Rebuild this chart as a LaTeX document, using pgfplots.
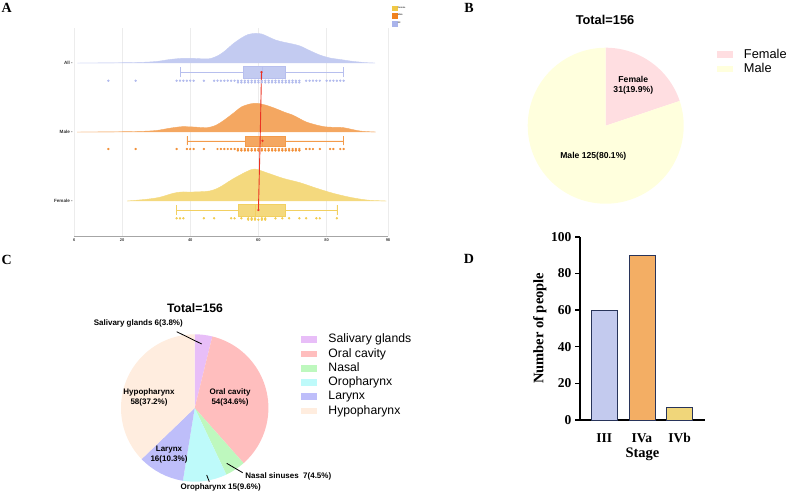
\documentclass[border=0pt]{standalone}
\usepackage{pgfplots}
\usepackage{pgfplotstable}
\pgfplotsset{compat=1.18}
\usepgfplotslibrary{statistics}
\usepackage{fontspec}
\setmainfont{Liberation Sans}
\newfontfamily\timesfont{Liberation Serif}

% colours
\definecolor{cAll}{RGB}{170,180,235}
\definecolor{cMale}{RGB}{240,130,30}
\definecolor{cFemale}{RGB}{240,200,70}
\definecolor{meanred}{RGB}{235,50,35}
\definecolor{pFemale}{RGB}{255,222,225}
\definecolor{pMale}{RGB}{255,255,221}
\definecolor{sSal}{RGB}{232,190,248}
\definecolor{sOral}{RGB}{255,190,190}
\definecolor{sNasal}{RGB}{190,248,190}
\definecolor{sOro}{RGB}{190,250,250}
\definecolor{sLar}{RGB}{190,190,250}
\definecolor{sHypo}{RGB}{255,237,223}
\definecolor{barIII}{RGB}{195,202,238}
\definecolor{barIVa}{RGB}{243,174,100}
\definecolor{barIVb}{RGB}{240,214,122}
\definecolor{barEdge}{RGB}{40,52,90}

% age densities (age, height of the ridge)
\pgfplotstableread{
age h
6.9 0
15 0.1
25 0.6
30 1.5
34 3.5
37.5 4.6
41 4.6
45.5 4.2
48.5 8
50.5 13
52.5 19
55 25
57 28.5
59 29.6
61 29
63 26
65 23
67.2 21
70 19
72.2 17
75 12.5
78 8
81 5
84 3.5
87.8 1.6
91.9 0.3
94.2 0
}\densAll
\pgfplotstableread{
age h
6.8 0
15 0.1
25 0.6
30 1.5
34 3.8
37.5 5.3
41 5
45 4.3
47.7 7
50 12
52.6 18.7
55 25
57.5 28
59.5 28.7
62 27
65 23.5
67.5 20
70 17
72 13.5
74 10
77 7
79.5 5.2
82 4.7
85 4.3
89.8 1
94.4 0
}\densMale
\pgfplotstableread{
age h
21.5 0
27.1 1.7
31 3.7
35 7.7
37.4 9
40.7 9
45.7 10
48.6 13.7
52.5 22
56.5 29.3
58.9 32
62.4 28.3
67.2 22.7
72.2 18.3
77.1 12.7
81.9 7.7
86.9 3.7
91.8 1
97.5 0
}\densFemale

% pie slices: count/colour, clockwise from the top
\newcommand{\drawpie}[3]{% #1 list, #2 total, #3 radius
  \gdef\cumangle{90}%
  \foreach \v/\slicecol in {#1} {%
    \pgfmathsetmacro{\endangle}{\cumangle-(\v/#2)*360}%
    \edef\temp{\noexpand\fill[\slicecol] (axis cs:0,0) -- (axis cs:{cos(\cumangle)},{sin(\cumangle)}) arc[start angle=\cumangle, end angle=\endangle, radius=#3] -- cycle;}%
    \temp
    \global\let\cumangle\endangle
  }%
}
% legend key: a flat bar followed by a gap before the text
\pgfplotsset{
  keybar/.style 2 args={legend image code/.code={\fill[#1] (0pt,-#2) rectangle (15pt,#2); \path (25pt,0pt);}}
}

\begin{document}
\begin{tikzpicture}
\path[use as bounding box] (0,0) rectangle (787pt,-493pt);

% panel letters
\begin{scope}[every node/.style={font=\timesfont\bfseries\fontsize{14}{14}\selectfont}]
\node at (6.7pt,-7.5pt) {A};
\node at (469pt,-7.5pt) {B};
\node at (6.7pt,-260pt) {C};
\node at (469pt,-259pt) {D};
\end{scope}

% ---------------- A: raincloud of age ----------------
\begin{axis}[
  at={(74.3pt,-236.3pt)}, anchor=south west, scale only axis,
  width=313.7pt, height=208pt,
  xmin=6, xmax=98, ymin=0, ymax=208,
  axis x line*=bottom, axis y line*=left,
  y axis line style={draw=none},
  x axis line style={draw=gray!70, line width=0.6pt},
  xtick={6,20,40,60,80,98},
  xmajorgrids, grid style={gray!15, line width=0.4pt},
  ytick={35.3,104.3,173.3}, yticklabels={Female -, Male -, All -},
  tick style={draw=none},
  /pgf/number format/assume math mode=true,
  xticklabel style={font=\bfseries\fontsize{4}{4}\selectfont, text=black!75, yshift=1pt},
  yticklabel style={font=\bfseries\fontsize{4.6}{5}\selectfont, text=black!80, xshift=2pt},
  legend style={at={(1.012,1.11)}, anchor=north west, draw=none, fill=none,
    font=\fontsize{2.3}{2.5}\selectfont, row sep=2.4pt, inner sep=0pt,
    nodes={inner sep=0.6pt}},
  legend cell align=left,
  boxplot/draw direction=x,
]
\addlegendimage{legend image code/.code={\fill[cFemale] (0pt,-2.4pt) rectangle (4.8pt,2.4pt);}}
\addlegendentry{Female}
\addlegendimage{legend image code/.code={\fill[cMale] (0pt,-2.4pt) rectangle (4.8pt,2.4pt);}}
\addlegendentry{Male}
\addlegendimage{legend image code/.code={\fill[cAll] (0pt,-2.4pt) rectangle (4.8pt,2.4pt);}}
\addlegendentry{All}

% clouds
\addplot[forget plot, draw=cAll!70!white, fill=cAll!70!white, smooth, tension=0.5]
  table[x=age, y expr=\thisrow{h}+173.3] {\densAll};
\addplot[forget plot, draw=cMale!70!white, fill=cMale!70!white, smooth, tension=0.5]
  table[x=age, y expr=\thisrow{h}+104.3] {\densMale};
\addplot[forget plot, draw=cFemale!70!white, fill=cFemale!70!white, smooth, tension=0.5]
  table[x=age, y expr=\thisrow{h}+35.3] {\densFemale};

% boxes
\addplot[forget plot, draw=cAll!85!white, fill=cAll!70!white, line width=0.5pt,
  boxplot prepared={lower whisker=37, lower quartile=55.5, median=61,
  upper quartile=68, upper whisker=85, draw position=164.2, box extend=12, whisker extend=10}]
  coordinates {};
\addplot[forget plot, draw=cMale!80!white, fill=cMale!70!white, line width=0.5pt,
  boxplot prepared={lower whisker=39, lower quartile=56, median=61,
  upper quartile=68, upper whisker=85, draw position=95.5, box extend=10, whisker extend=9}]
  coordinates {};
\addplot[forget plot, draw=cFemale!85!white, fill=cFemale!70!white, line width=0.5pt,
  boxplot prepared={lower whisker=36, lower quartile=54, median=59,
  upper quartile=68, upper whisker=83, draw position=26.3, box extend=12, whisker extend=10}]
  coordinates {};

% rain (individual ages)
\addplot[forget plot, only marks, mark=*, mark size=0.95pt, color=cAll!90!white]
  coordinates {(16,155.6)(24,155.6)(36,155.6)(37,155.6)(38,155.6)(39,155.6)(40,155.6)(41,155.6)(44,155.6)
  (47,155.6)(48,155.6)(49,155.6)(50,155.6)(51,155.6)(52,155.6)(53,155.6)(54,155.6)(55,155.6)(56,155.6)
  (57,155.6)(58,155.6)(59,155.6)(60,155.6)(61,155.6)(62,155.6)(63,155.6)(64,155.6)(65,155.6)(66,155.6)
  (67,155.6)(68,155.6)(69,155.6)(70,155.6)(71,155.6)(72,155.6)(74,155.6)(75,155.6)(76,155.6)(77,155.6)
  (78,155.6)(80,155.6)(81,155.6)(82,155.6)(83,155.6)(84,155.6)(85,155.6)
  (54,153.9)(55,153.9)(56,153.9)(57,153.9)(58,153.9)(59,153.9)(60,153.9)(61,153.9)(62,153.9)(63,153.9)
  (64,153.9)(65,153.9)(66,153.9)(67,153.9)(68,153.9)(69,153.9)(70,153.9)(71,153.9)(72,153.9)};
\addplot[forget plot, only marks, mark=*, mark size=0.95pt, color=cMale!90!white]
  coordinates {(16,87.3)(24,87.3)(36,87.3)(39,87.3)(40,87.3)(41,87.3)(44,87.3)
  (48,87.3)(49,87.3)(50,87.3)(51,87.3)(52,87.3)(53,87.3)(54,87.3)(55,87.3)(56,87.3)(57,87.3)(58,87.3)
  (59,87.3)(60,87.3)(61,87.3)(62,87.3)(63,87.3)(64,87.3)(65,87.3)(66,87.3)(67,87.3)(68,87.3)(69,87.3)
  (70,87.3)(71,87.3)(72,87.3)(74,87.3)(75,87.3)(76,87.3)(78,87.3)(81,87.3)(82,87.3)(84,87.3)(85,87.3)
  (54,85.8)(55,85.8)(56,85.8)(57,85.8)(58,85.8)(59,85.8)(60,85.8)(61,85.8)(62,85.8)(63,85.8)(64,85.8)
  (65,85.8)(66,85.8)(67,85.8)(68,85.8)(69,85.8)(70,85.8)(71,85.8)(72,85.8)};
\addplot[forget plot, only marks, mark=*, mark size=0.95pt, color=cFemale!95!white]
  coordinates {(36,18)(37,18)(38,18)(44,18)(47,18)(52,18)(53,18)(55,18)(57,18)(58,18)(59,18)(61,18)
  (62,18)(65,18)(67,18)(69,18)(72,18)(74,18)(77,18)(78,18)(83,18)
  (57,16.6)(58,16.6)(59,16.6)(60,16.6)(61,16.6)(62,16.6)};

% means, joined across groups
\addplot[forget plot, draw=meanred, line width=0.9pt] coordinates {(60.9,164.2) (60.5,95.5) (60.0,26.3)};
\addplot[forget plot, only marks, mark=*, mark size=0.9pt, draw=meanred, fill=meanred]
  coordinates {(60.9,164.2) (61.2,95.5) (60.0,26.3)};
\end{axis}

% ---------------- B: sex ----------------
\node[font=\bfseries\fontsize{12.8}{13}\selectfont] at (605pt,-20pt) {Total=156};
\begin{axis}[
  at={(605.7pt,-125.7pt)}, anchor=center, scale only axis,
  width=156pt, height=156pt, xmin=-1, xmax=1, ymin=-1, ymax=1,
  hide axis, clip=false,
  legend style={at={(1.19,1.02)}, anchor=north west, draw=none, fill=none,
    font=\fontsize{12.8}{13}\selectfont, row sep=0pt},
  legend cell align=left,
]
\drawpie{31/pFemale,125/pMale}{156}{78pt}
\addlegendimage{keybar={pFemale}{2.6pt}}
\addlegendentry{Female}
\addlegendimage{keybar={pMale}{2.6pt}}
\addlegendentry{Male}
\end{axis}
\begin{scope}[every node/.style={font=\bfseries\fontsize{8.6}{10}\selectfont, align=center}]
\node at (633.3pt,-85.7pt) {Female\\31(19.9\%)};
\node at (593.3pt,-156.7pt) {Male 125(80.1\%)};
\end{scope}

% ---------------- C: tumour site ----------------
\node[font=\bfseries\fontsize{12.2}{13}\selectfont] at (195pt,-308.3pt) {Total=156};
\begin{axis}[
  at={(194.7pt,-408pt)}, anchor=center, scale only axis,
  width=147.4pt, height=147.4pt, xmin=-1, xmax=1, ymin=-1, ymax=1,
  hide axis, clip=false,
  legend style={at={(1.2,1.03)}, anchor=north west, draw=none, fill=none,
    font=\fontsize{12.2}{12.5}\selectfont, row sep=0pt},
  legend cell align=left,
]
\drawpie{6/sSal,54/sOral,7/sNasal,15/sOro,16/sLar,58/sHypo}{156}{73.7pt}
\addlegendimage{keybar={sSal}{2.8pt}}
\addlegendentry{Salivary glands}
\addlegendimage{keybar={sOral}{2.8pt}}
\addlegendentry{Oral cavity}
\addlegendimage{keybar={sNasal}{2.8pt}}
\addlegendentry{Nasal}
\addlegendimage{keybar={sOro}{2.8pt}}
\addlegendentry{Oropharynx}
\addlegendimage{keybar={sLar}{2.8pt}}
\addlegendentry{Larynx}
\addlegendimage{keybar={sHypo}{2.8pt}}
\addlegendentry{Hypopharynx}
\end{axis}
\begin{scope}[every node/.style={font=\bfseries\fontsize{8}{10.4}\selectfont, align=center}]
\node at (138.3pt,-323.3pt) {Salivary glands 6(3.8\%)};
\node at (230pt,-397.5pt) {Oral cavity\\54(34.6\%)};
\node at (149pt,-397.5pt) {Hypopharynx\\58(37.2\%)};
\node at (169pt,-454.7pt) {Larynx\\16(10.3\%)};
\node at (288.3pt,-476pt) {Nasal sinuses\ \ 7(4.5\%)};
\node at (220.7pt,-487.7pt) {Oropharynx 15(9.6\%)};
\end{scope}
\draw[line width=0.8pt] (176.7pt,-331.7pt) -- (201.7pt,-344pt);
\draw[line width=0.8pt] (226.7pt,-463.3pt) -- (242.7pt,-472.7pt);
\draw[line width=0.8pt] (206.7pt,-475pt) -- (209.3pt,-481.7pt);

% ---------------- D: stage ----------------
\begin{axis}[
  at={(580pt,-420pt)}, anchor=south west, scale only axis,
  width=125pt, height=183.3pt,
  ybar, bar width=26pt, bar shift=0pt,
  xmin=-0.64, xmax=2.67, ymin=0, ymax=100,
  axis x line*=bottom, axis y line*=left,
  axis line style={line width=1.6pt, black},
  xtick={0,1,2}, xticklabels={III,IVa,IVb},
  ytick={0,20,40,60,80,100},
  tick align=outside, major tick length=5pt,
  xtick style={draw=none},
  ytick style={line width=1.6pt, black},
  /pgf/number format/assume math mode=true,
  ticklabel style={font=\timesfont\bfseries\fontsize{13.5}{14}\selectfont},
  xticklabel style={yshift=-5pt},
  xlabel={Stage}, ylabel={Number of people},
  label style={font=\timesfont\bfseries\fontsize{14.5}{15}\selectfont},
  xlabel style={yshift=2pt},
  ylabel style={yshift=-2pt},
]
\addplot[fill=barIII, draw=barEdge, line width=0.8pt] coordinates {(0,60)};
\addplot[fill=barIVa, draw=barEdge, line width=0.8pt] coordinates {(1,90)};
\addplot[fill=barIVb, draw=barEdge, line width=0.8pt] coordinates {(2,7)};
\end{axis}
\end{tikzpicture}
\end{document}
